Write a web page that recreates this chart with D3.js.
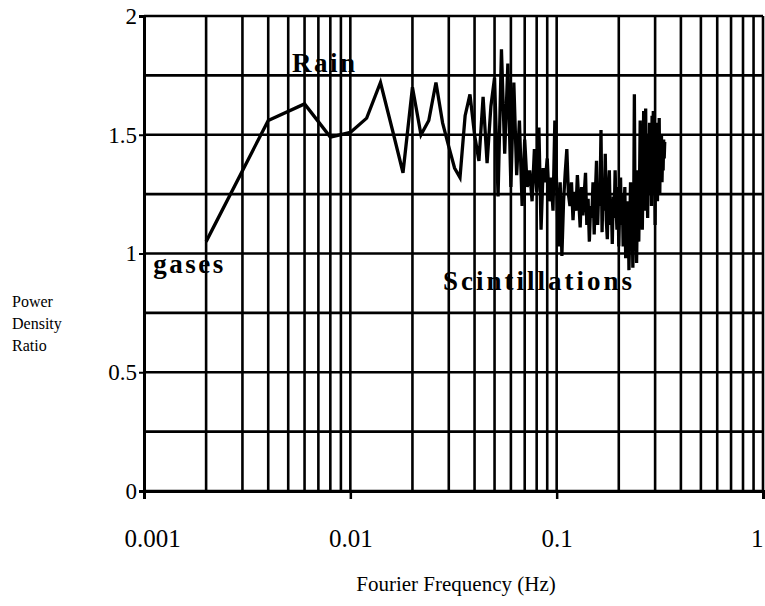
<!DOCTYPE html>
<html>
<head>
<meta charset="utf-8">
<script src="https://cdn.jsdelivr.net/npm/d3@7/dist/d3.min.js"></script>
<style>
  html, body { margin: 0; padding: 0; background: #fff; }
  svg { display: block; }
  svg text { font-family: "Liberation Serif", "Times New Roman", serif; }
</style>
</head>
<body>
<svg id="chart" width="765" height="606"></svg>
<script>
// Fourier frequency (Hz) of each spectral estimate
const freq = [
  0.002, 0.004, 0.006, 0.008, 0.010, 0.012, 0.014, 0.016, 0.018, 0.020,
  0.022, 0.024, 0.026, 0.028, 0.030, 0.032, 0.034, 0.036, 0.038, 0.040,
  0.042, 0.044, 0.046, 0.048, 0.050, 0.052, 0.054, 0.056, 0.058, 0.060,
  0.062, 0.064, 0.066, 0.068, 0.070, 0.072, 0.074, 0.076, 0.078, 0.080,
  0.082, 0.084, 0.086, 0.088, 0.090, 0.092, 0.094, 0.096, 0.098, 0.100,
  0.102, 0.104, 0.106, 0.108, 0.110, 0.112, 0.114, 0.116, 0.118, 0.120,
  0.122, 0.124, 0.126, 0.128, 0.130, 0.132, 0.134, 0.136, 0.138, 0.140,
  0.142, 0.144, 0.146, 0.148, 0.150, 0.152, 0.154, 0.156, 0.158, 0.160,
  0.162, 0.164, 0.166, 0.168, 0.170, 0.172, 0.174, 0.176, 0.178, 0.180,
  0.182, 0.184, 0.186, 0.188, 0.190, 0.192, 0.194, 0.196, 0.198, 0.200,
  0.202, 0.204, 0.206, 0.208, 0.210, 0.212, 0.214, 0.216, 0.218, 0.220,
  0.222, 0.224, 0.226, 0.228, 0.230, 0.232, 0.234, 0.236, 0.238, 0.240,
  0.242, 0.244, 0.246, 0.248, 0.250, 0.252, 0.254, 0.256, 0.258, 0.260,
  0.262, 0.264, 0.266, 0.268, 0.270, 0.272, 0.274, 0.276, 0.278, 0.280,
  0.282, 0.284, 0.286, 0.288, 0.290, 0.292, 0.294, 0.296, 0.298, 0.300,
  0.302, 0.304, 0.306, 0.308, 0.310, 0.312, 0.314, 0.316, 0.318, 0.320,
  0.322, 0.324, 0.326, 0.328, 0.330, 0.332, 0.334
];

// Power density ratio at each frequency
const ratio = [
  1.05, 1.56, 1.63, 1.49, 1.51, 1.57, 1.72, 1.52, 1.34, 1.70,
  1.50, 1.56, 1.72, 1.55, 1.45, 1.36, 1.32, 1.58, 1.67, 1.50,
  1.39, 1.66, 1.38, 1.62, 1.74, 1.24, 1.86, 1.42, 1.80, 1.28,
  1.72, 1.33, 1.56, 1.20, 1.48, 1.28, 1.35, 1.22, 1.44, 1.26,
  1.53, 1.10, 1.36, 1.30, 1.40, 1.22, 1.32, 1.18, 1.56, 1.28,
  1.03, 1.30, 0.99, 1.22, 1.34, 1.44, 1.25, 1.20, 1.30, 1.14,
  1.26, 1.18, 1.33, 1.22, 1.11, 1.28, 1.16, 1.25, 1.34, 1.12,
  1.23, 1.05, 1.20, 1.15, 1.30, 1.08, 1.25, 1.39, 1.12, 1.28,
  1.20, 1.52, 1.09, 1.30, 1.18, 1.42, 1.14, 1.06, 1.27, 1.35,
  1.12, 1.22, 1.04, 1.24, 1.15, 1.35, 1.20, 1.10, 1.28, 1.03,
  1.20, 1.32, 1.12, 1.25, 1.03, 1.18, 1.28, 0.98, 1.15, 1.05,
  1.22, 0.93, 1.10, 1.30, 1.02, 1.18, 0.94, 1.12, 1.67, 1.09,
  1.25, 0.96, 1.20, 1.35, 1.05, 1.28, 1.56, 1.17, 1.38, 1.10,
  1.30, 1.60, 1.18, 1.45, 1.61, 1.22, 1.40, 1.15, 1.50, 1.32,
  1.55, 1.25, 1.48, 1.20, 1.58, 1.35, 1.60, 1.28, 1.45, 1.12,
  1.50, 1.30, 1.55, 1.22, 1.40, 1.32, 1.57, 1.25, 1.45, 1.38,
  1.50, 1.30, 1.42, 1.35, 1.48, 1.40, 1.47
];

// Axis tick values and their labels
const xDecades = [0.001, 0.01, 0.1, 1];
const xTickLabels = ["0.001", "0.01", "0.1", "1"];
const yTicks = [0, 0.5, 1, 1.5, 2];
const yTickLabels = ["0", "0.5", "1", "1.5", "2"];
const yGrid = [0, 0.25, 0.5, 0.75, 1, 1.25, 1.5, 1.75, 2];

// Region annotations, anchored by their left baseline point
const notes = [
  { text: "Rain", f: 0.00522, v: 1.764 },
  { text: "gases", f: 0.00111, v: 0.918 },
  { text: "Scintillations", f: 0.0281, v: 0.846 }
];

const svg = d3.select("#chart");

const x = d3.scaleLog().domain([0.001, 1]).range([144, 763]);
const y = d3.scaleLinear().domain([0, 2]).range([491, 16]);

const grid = svg.append("g").attr("stroke", "#000").attr("stroke-width", 2.6);

// vertical grid at every 1..9 multiple of each decade
grid.selectAll("line.v")
  .data(x.ticks().filter(d => d > 0.001))
  .join("line")
  .attr("class", "v")
  .attr("x1", d => x(d)).attr("x2", d => x(d))
  .attr("y1", y(2)).attr("y2", y(0));

// horizontal grid every 0.25
grid.selectAll("line.h")
  .data(yGrid)
  .join("line")
  .attr("class", "h")
  .attr("x1", x(0.001)).attr("x2", x(1))
  .attr("y1", d => y(d)).attr("y2", d => y(d));

// left axis
const yAxis = d3.axisLeft(y).tickValues(yTicks).tickSize(5).tickPadding(2)
  .tickFormat((d, i) => yTickLabels[i]);
const gy = svg.append("g").attr("transform", `translate(${x(0.001)},0)`).call(yAxis);
gy.attr("font-family", "Liberation Serif");
gy.select(".domain").attr("stroke", "#000").attr("stroke-width", 3);
gy.selectAll(".tick line").attr("stroke", "#000").attr("stroke-width", 2);
gy.selectAll(".tick text").attr("font-size", 23).attr("fill", "#000");

// bottom axis
const xAxis = d3.axisBottom(x).tickValues(xDecades).tickSize(8).tickPadding(30)
  .tickFormat((d, i) => xTickLabels[i]);
const gx = svg.append("g").attr("transform", `translate(0,${y(0)})`).call(xAxis);
gx.attr("font-family", "Liberation Serif");
gx.select(".domain").attr("stroke", "#000").attr("stroke-width", 3);
gx.selectAll(".tick line").attr("stroke", "#000").attr("stroke-width", 2.5);
gx.selectAll(".tick text").attr("font-size", 25).attr("fill", "#000");
gx.selectAll(".tick text").filter(d => d === 0.001).attr("dx", 8);
gx.selectAll(".tick text").filter(d => d === 1).attr("text-anchor", "end");

// data trace
const line = d3.line()
  .x((d, i) => x(freq[i]))
  .y(d => y(d));

svg.append("path")
  .datum(ratio)
  .attr("fill", "none")
  .attr("stroke", "#000")
  .attr("stroke-width", 3.3)
  .attr("stroke-linejoin", "miter")
  .attr("d", line);

// annotations
svg.selectAll("text.note")
  .data(notes)
  .join("text")
  .attr("class", "note")
  .attr("x", d => x(d.f))
  .attr("y", d => y(d.v))
  .attr("font-family", "Liberation Serif")
  .attr("font-size", 27)
  .attr("font-weight", "bold")
  .attr("letter-spacing", d => d.text === "Scintillations" ? 3 : 2.5)
  .attr("fill", "#000")
  .text(d => d.text);

// axis titles
svg.append("text")
  .attr("x", 456).attr("y", 591)
  .attr("text-anchor", "middle")
  .attr("font-family", "Liberation Serif")
  .attr("font-size", 21)
  .attr("fill", "#000")
  .text("Fourier Frequency (Hz)");

svg.append("text")
  .attr("x", 12).attr("y", 307)
  .attr("font-family", "Liberation Serif")
  .attr("font-size", 16)
  .attr("fill", "#000")
  .selectAll("tspan")
  .data(["Power", "Density", "Ratio"])
  .join("tspan")
  .attr("x", 12)
  .attr("dy", (d, i) => i === 0 ? 0 : 22)
  .text(d => d);
</script>
</body>
</html>
